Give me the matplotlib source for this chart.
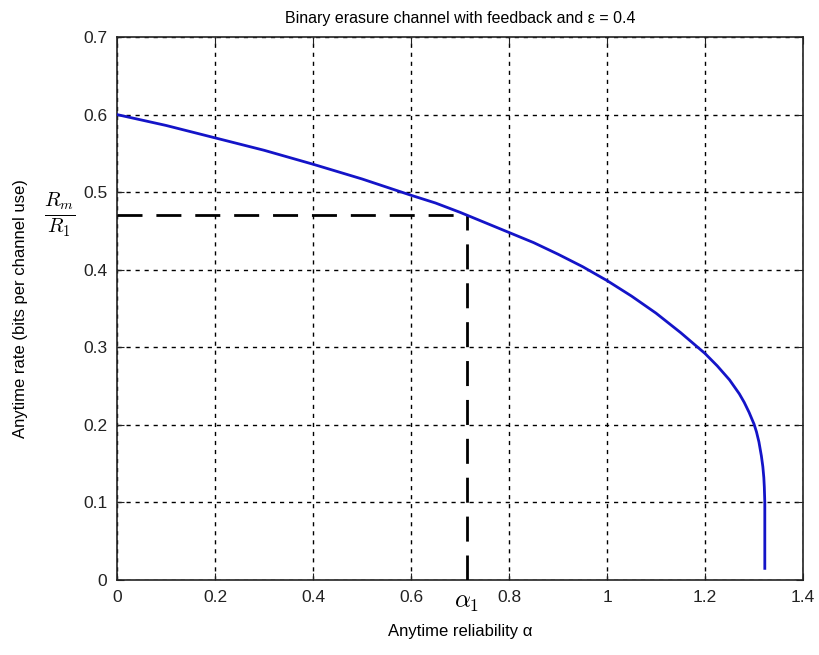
import matplotlib
matplotlib.use("Agg")
import matplotlib.pyplot as plt
import matplotlib.transforms as mtransforms

# curve (anytime reliability vs anytime rate)
alpha = [0.0, 0.1, 0.2, 0.3, 0.4, 0.5, 0.6, 0.65, 0.7, 0.75, 0.8, 0.85,
         0.9, 0.95, 1.0, 1.05, 1.1, 1.15, 1.2, 1.225, 1.25, 1.27, 1.28,
         1.29, 1.3, 1.305, 1.31, 1.315, 1.318, 1.32, 1.321, 1.322, 1.322]
rate = [0.600, 0.586, 0.570, 0.554, 0.536, 0.517, 0.496, 0.486, 0.474,
        0.461, 0.448, 0.435, 0.420, 0.404, 0.386, 0.366, 0.344, 0.319,
        0.292, 0.276, 0.258, 0.240, 0.229, 0.216, 0.201, 0.191, 0.178,
        0.160, 0.146, 0.132, 0.120, 0.100, 0.015]

# marked operating point
alpha1 = 0.714
rate_ratio = 0.471

xticks = [0, 0.2, 0.4, 0.6, 0.8, 1, 1.2, 1.4]
xticklabels = ["0", "0.2", "0.4", "0.6", "0.8", "1", "1.2", "1.4"]
yticks = [0, 0.1, 0.2, 0.3, 0.4, 0.5, 0.6, 0.7]
yticklabels = ["0", "0.1", "0.2", "0.3", "0.4", "0.5", "0.6", "0.7"]

plt.rcParams["mathtext.fontset"] = "cm"
plt.rcParams["font.family"] = ["Liberation Sans", "DejaVu Sans"]

fig = plt.figure(figsize=(8.2, 6.55), dpi=100)
ax = fig.add_axes([0.1427, 0.1145, 0.8366, 0.829])

# dashed guide lines to the operating point
ax.plot([0, alpha1], [rate_ratio, rate_ratio], color="black", lw=2,
        dashes=(9, 5), zorder=3)
ax.plot([alpha1, alpha1], [0, rate_ratio], color="black", lw=2,
        dashes=(9, 5), zorder=3)

# main curve
ax.plot(alpha, rate, color="#1414c8", lw=2, zorder=4)

ax.set_xlim(0, 1.4)
ax.set_ylim(0, 0.7)
ax.set_xticks(xticks)
ax.set_xticklabels(xticklabels)
ax.set_yticks(yticks)
ax.set_yticklabels(yticklabels)
ax.tick_params(direction="in", top=True, right=True, length=5,
               labelsize=12.5, colors="#222222", pad=7)
for sp in ax.spines.values():
    sp.set_linewidth(1.2)
    sp.set_color("#222222")

ax.grid(True, color="black", linestyle=(0, (3, 3.5)), linewidth=1.0)

ax.set_title("Binary erasure channel with feedback and \u03b5 = 0.4",
             fontsize=11.5, pad=10)
ax.set_xlabel("Anytime reliability \u03b1", fontsize=12, labelpad=14)
ax.set_ylabel("Anytime rate (bits per channel use)", fontsize=12)
ax.yaxis.set_label_coords(-0.13, 0.5)

# extra labels for the operating point
tx = mtransforms.blended_transform_factory(ax.transData, ax.transAxes)
ax.text(alpha1, -0.018, r"$\alpha_1$", transform=tx, ha="center", va="top",
        fontsize=18)
ty = mtransforms.blended_transform_factory(ax.transAxes, ax.transData)
ax.text(-0.083, rate_ratio, r"$\frac{R_m}{R_1}$", transform=ty, ha="center",
        va="center", fontsize=21)

fig.savefig("out.png", dpi=100, facecolor="white")
